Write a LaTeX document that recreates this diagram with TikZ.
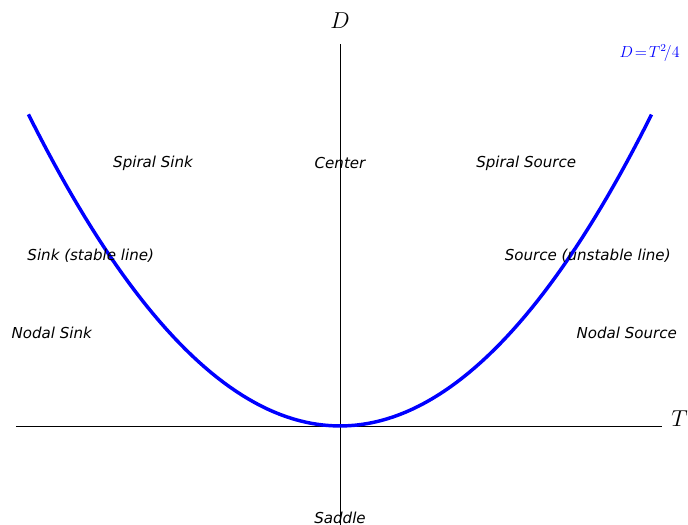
\documentclass[tikz,border=0pt]{standalone}
\usepackage{fontspec}
\setsansfont{DejaVu Sans}
\tikzset{region/.style={font=\sffamily\itshape\fontsize{11.3}{13}\selectfont},
  axislabel/.style={font=\fontsize{17}{20}\selectfont}}
\begin{document}
\begin{tikzpicture}[x=58.4pt,y=58.4pt]
        \useasboundingbox(-4.365,-1.271)rectangle(4.467,5.468);
        \coordinate(O)at(0,0);
        \coordinate(Tl)at(-4.16,0);
        \coordinate(Tr)at(4.13,0);
        \coordinate(Db)at(0,-1.28);
        \coordinate(Dt)at(0,4.905);
        \draw[line width=0.6pt](Tl)--(Tr);
        \draw[line width=0.6pt](Db)--(Dt);
        \draw[blue,line width=2.6pt,domain=-4:4,samples=100]plot(\x,{\x*\x/4});
        \node[axislabel](T)at(4.36,0.09){$T$};
        \node[axislabel](D)at(0,5.2){$D$};
        \node[blue,anchor=east,font=\fontsize{11.8}{13}\selectfont](curve)at(4.42,4.79){$D\!=\!T^2\!/4$};
        \node[region](ss)at(-2.4,3.375){Spiral Sink};
        \node[region](c)at(0,3.375){Center};
        \node[region](so)at(2.39,3.375){Spiral Source};
        \node[region](sl)at(-3.2,2.185){Sink (stable line)};
        \node[region](ul)at(3.18,2.185){Source (unstable line)};
        \node[region](ns)at(-3.7,1.19){Nodal Sink};
        \node[region](no)at(3.68,1.19){Nodal Source};
        \node[region](sa)at(0,-1.175){Saddle};
    \end{tikzpicture}
\end{document}
